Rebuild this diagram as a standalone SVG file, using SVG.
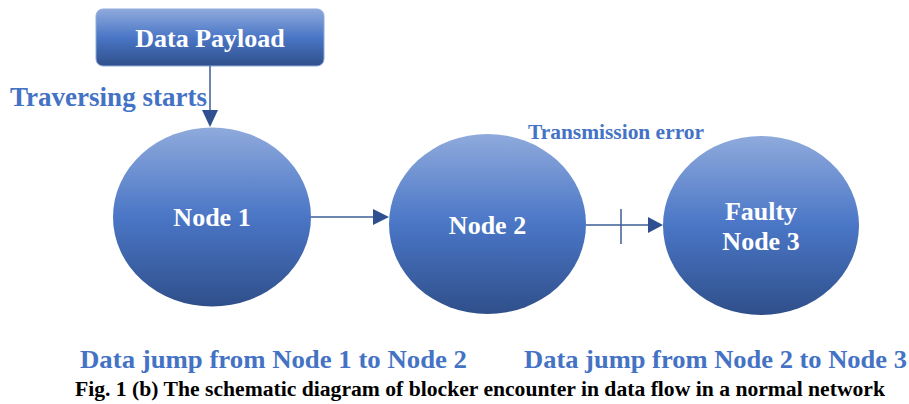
<svg xmlns="http://www.w3.org/2000/svg" width="909" height="404" viewBox="0 0 909 404">
<style>
.w{fill:#ffffff;text-anchor:middle;}
.b{fill:#4472C4;}
.conn{stroke:#3B5C97;stroke-width:1.5;fill:none;}
.ah{fill:#2F5090;}
</style>
<defs>
<linearGradient id="g" x1="0" y1="0" x2="0" y2="1">
<stop offset="0" stop-color="#8FAADC"/>
<stop offset="0.5" stop-color="#4A76C6"/>
<stop offset="1" stop-color="#2F4F8A"/>
</linearGradient>
</defs>
<g id="payload">
<rect x="96" y="9" width="228" height="57" rx="7" fill="url(#g)" stroke="#8FAADC" stroke-width="1"/>
<text class="w" x="210" y="47" font-family="Liberation Serif, serif" font-weight="bold" font-size="26">Data Payload</text>
</g>
<g id="node1">
<ellipse cx="212" cy="217" rx="99" ry="89.5" fill="url(#g)"/>
<text class="w" x="212" y="226" font-family="Liberation Serif, serif" font-weight="bold" font-size="26">Node 1</text>
</g>
<g id="node2">
<ellipse cx="487.5" cy="224" rx="98.5" ry="90" fill="url(#g)"/>
<text class="w" x="487.5" y="234" font-family="Liberation Serif, serif" font-weight="bold" font-size="26">Node 2</text>
</g>
<g id="node3">
<ellipse cx="761" cy="225.5" rx="98" ry="89.5" fill="url(#g)"/>
<text class="w" x="761" y="220" font-family="Liberation Serif, serif" font-weight="bold" font-size="26">Faulty</text>
<text class="w" x="761" y="250" font-family="Liberation Serif, serif" font-weight="bold" font-size="26">Node 3</text>
</g>
<g id="connectors">
<line class="conn" x1="210" y1="66" x2="210" y2="110"/>
<path class="ah" d="M202,110 L218,110 L210,127 Z"/>
<line class="conn" x1="311" y1="217" x2="374" y2="217"/>
<path class="ah" d="M373,209 L389,217 L373,225 Z"/>
<line class="conn" x1="586" y1="225" x2="649" y2="225"/>
<path class="ah" d="M648,217 L663,225 L648,233 Z"/>
<line class="conn" x1="621" y1="209" x2="621" y2="244"/>
</g>
<g id="labels">
<text class="b" x="10" y="106" font-size="27" font-family="Liberation Serif, serif" font-weight="bold" textLength="197" lengthAdjust="spacingAndGlyphs">Traversing starts</text>
<text class="b" x="528" y="139" font-size="20" font-family="Liberation Serif, serif" font-weight="bold" textLength="176" lengthAdjust="spacingAndGlyphs">Transmission error</text>
<text class="b" x="80" y="368" font-size="26" font-family="Liberation Serif, serif" font-weight="bold" textLength="387" lengthAdjust="spacingAndGlyphs">Data jump from Node 1 to Node 2</text>
<text class="b" x="524" y="368" font-size="26" font-family="Liberation Serif, serif" font-weight="bold" textLength="383" lengthAdjust="spacingAndGlyphs">Data jump from Node 2 to Node 3</text>
<text x="75" y="396" font-size="20" fill="#000" font-family="Liberation Serif, serif" font-weight="bold" textLength="810" lengthAdjust="spacingAndGlyphs">Fig. 1 (b) The schematic diagram of blocker encounter in data flow in a normal network</text>
</g>
</svg>
